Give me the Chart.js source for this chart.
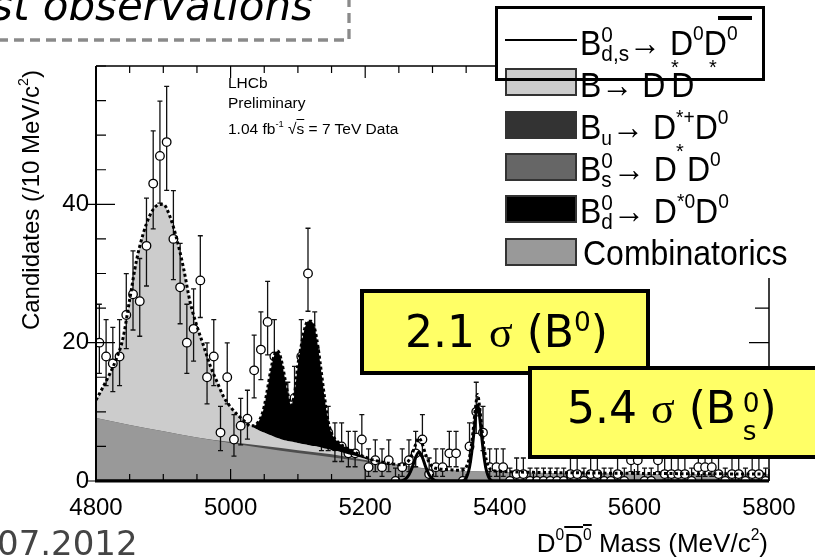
<!DOCTYPE html>
<html>
<head>
<meta charset="utf-8">
<script src="https://cdn.jsdelivr.net/npm/chart.js@4.4.1/dist/chart.umd.min.js"></script>
<style>
  html, body { margin: 0; padding: 0; background: #fff; }
  #stage { position: relative; width: 815px; height: 560px; overflow: hidden; font-family: "Liberation Sans", Arial, sans-serif; color: #000; }
  #plot { position: absolute; left: 0; top: 0; }
  .t { position: absolute; white-space: nowrap; }
  .t sup, .t sub { font-size: 0.6em; line-height: 0; position: relative; vertical-align: baseline; }
  .t sup { top: -0.75em; }
  .t sub { top: 0.25em; }
  .ss { display: inline-block; font-size: 0.65em; line-height: 0.8; vertical-align: -0.24em; }
  .ss span { display: block; }
  .slide { font-family: "DejaVu Sans", sans-serif; }
  .lhcb { font-size: 15.5px; line-height: 15.5px; left: 228px; }
  .leg { font-size: 32px; line-height: 32px; transform: scaleY(1.1); }
  .sym { position: absolute; left: 505px; width: 72px; height: 28px; box-sizing: border-box; border: 2px solid #333; }
  .star { position: absolute; font-size: 20px; line-height: 20px; }
  .ybox { position: absolute; box-sizing: border-box; border: 4px solid #000; background: #ffff66; }
  .big { font-family: "DejaVu Sans", sans-serif; font-size: 44px; line-height: 44px; }
  .big sup { top: -0.6em; }
  .sig { font-family: "Liberation Serif", "DejaVu Serif", serif; }
  .ss2 { display: inline-block; font-size: 0.6em; line-height: 1.05; vertical-align: -0.65em; margin-left: 0.25em; }
  .ss2 span { display: block; }
</style>
</head>
<body>
<div id="stage">
  <canvas id="plot" width="815" height="560"></canvas>

  <div class="t slide" style="right:502px; top:-15px; font-size:42px; line-height:42px; font-style:italic;">First observations</div>
  <svg width="815" height="560" style="position:absolute; left:0; top:0;">
    <path d="M-2 40 H349 V-2" stroke="#8a8a8a" stroke-width="3.3" stroke-dasharray="10 6" fill="none"/>
  </svg>
  <div class="t slide" style="left:-3px; top:526px; font-size:34px; line-height:34px; color:#444;">07.2012</div>

  <div class="t lhcb" style="top:75px;">LHCb</div>
  <div class="t lhcb" style="top:95px;">Preliminary</div>
  <div class="t lhcb" style="top:121px;">1.04 fb<sup>-1</sup> √<span style="text-decoration:overline">s</span> = 7 TeV Data</div>

  <div class="t" style="left:-119px; top:188px; width:300px; text-align:center; font-size:24px; line-height:24px; transform:rotate(-90deg);">Candidates (/10 MeV/c<sup>2</sup>)</div>
  <div class="t" style="right:47px; top:530px; font-size:26px; line-height:26px;">D<sup>0</sup><span style="text-decoration:overline">D<sup>0</sup></span> Mass (MeV/c<sup>2</sup>)</div>

  <!-- legend -->
  <div style="position:absolute; left:495px; top:0; width:330px; height:278px; background:#fff;"></div>
  <div style="position:absolute; left:505px; top:39px; width:72px; height:2px; background:#000;"></div>
  <div class="t leg" style="left:580px; top:27px;">B<span class="ss"><span>0</span><span>d,s</span></span>→ D<sup>0</sup>D<sup>0</sup></div>
  <div style="position:absolute; left:718px; top:16px; width:34px; height:3.5px; background:#000;"></div>
  <div class="sym" style="top:68px; background:#cccccc;"></div>
  <div class="t leg" style="left:580px; top:69px;">B→ D<span style="margin-left:6px">D</span></div>
  <div class="star" style="left:671px; top:57px;">*</div>
  <div class="star" style="left:709px; top:57px;">*</div>
  <div class="sym" style="top:111px; background:#333333;"></div>
  <div class="t leg" style="left:580px; top:111px;">B<sub>u</sub>→ D<sup>*+</sup>D<sup>0</sup></div>
  <div class="sym" style="top:153px; background:#666666;"></div>
  <div class="t leg" style="left:580px; top:153px;">B<span class="ss"><span>0</span><span>s</span></span>→ D<span style="margin-left:10px">D</span><sup>0</sup></div>
  <div class="star" style="left:676px; top:141px;">*</div>
  <div class="sym" style="top:195px; background:#000000;"></div>
  <div class="t leg" style="left:580px; top:195px;">B<span class="ss"><span>0</span><span>d</span></span>→ D<sup>*0</sup>D<sup>0</sup></div>
  <div class="sym" style="top:238px; background:#999999;"></div>
  <div class="t leg" style="left:583px; top:237px;">Combinatorics</div>
  <div style="position:absolute; left:495px; top:6px; width:270px; height:75px; box-sizing:border-box; border:3.5px solid #000;"></div>

  <!-- significance boxes -->
  <div class="ybox" style="left:360px; top:289px; width:290px; height:86px;"></div>
  <div class="t big" style="left:405px; top:310px;">2.1 <span class="sig">σ</span> (B<sup>0</sup>)</div>
  <div class="ybox" style="left:528px; top:366px; width:300px; height:93px;"></div>
  <div class="t big" style="left:567px; top:386px;">5.4 <span class="sig">σ</span> (B<span class="ss2"><span>0</span><span>s</span></span>)</div>
</div>

<script>
// data points, 10 MeV bins
const binMass = [
  4805, 4815, 4825, 4835, 4845, 4855, 4865, 4875, 4885, 4895,
  4905, 4915, 4925, 4935, 4945, 4955, 4965, 4975, 4985, 4995,
  5005, 5015, 5025, 5035, 5045, 5055, 5065, 5075, 5085, 5095,
  5105, 5115, 5125, 5135, 5145, 5155, 5165, 5175, 5185, 5195,
  5205, 5215, 5225, 5235, 5245, 5255, 5265, 5275, 5285, 5295,
  5305, 5315, 5325, 5335, 5345, 5355, 5365, 5375, 5385, 5395,
  5405, 5415, 5425, 5435, 5445, 5455, 5465, 5475, 5485, 5495,
  5505, 5515, 5525, 5535, 5545, 5555, 5565, 5575, 5585, 5595,
  5605, 5615, 5625, 5635, 5645, 5655, 5665, 5675, 5685, 5695,
  5705, 5715, 5725, 5735, 5745, 5755, 5765, 5775, 5785, 5795
];
const counts = [
  20, 18, 17, 18, 24, 27, 26, 34, 43, 47,
  49, 35, 28, 20, 22, 29, 15, 18, 7, 15,
  6, 8, 9, 16, 19, 23, 18, 12, 10, 12,
  18, 30, 19, 7, 7, 5, 5, 4, 4, 6,
  2, 3, 2, 3, 0, 2, 3, 4, 6, 1,
  2, 2, 4, 4, 0, 5, 10, 7, 2, 2,
  2, 0, 1, 1, 0, 0, 0, 0, 0, 0,
  1, 1, 0, 1, 1, 0, 0, 1, 0, 3,
  3, 0, 0, 3, 1, 1, 1, 1, 0, 2,
  2, 2, 1, 0, 1, 1, 0, 1, 1, 0
];

// fit components (cumulative tops)
const fitMass = [
  4800, 4810, 4820, 4830, 4840, 4850, 4860, 4870, 4880, 4890, 4900, 4910,
  4920, 4930, 4940, 4950, 4960, 4970, 4980, 4990, 5000, 5010, 5020, 5030,
  5035, 5040, 5045, 5050, 5055, 5060, 5065, 5070, 5075, 5080, 5085, 5090,
  5095, 5100, 5105, 5110, 5115, 5120, 5125, 5130, 5135, 5140, 5145, 5150,
  5155, 5160, 5165, 5170, 5180, 5190, 5200, 5210, 5220, 5230, 5240, 5250,
  5260, 5270, 5280, 5290, 5300
];
const lightTop = [
  11.7, 13.5, 15.4, 17.6, 20.6, 26.2, 31.8, 35.7, 38.4, 39.8, 40.0, 38.2,
  35.0, 30.8, 25.8, 22.4, 19.5, 16.6, 14.3, 12.1, 10.7, 9.6, 8.7, 8.0,
  7.7, 7.45, 7.2, 7.0, 6.8, 6.6, 6.4, 6.2, 6.05, 5.9, 5.8, 5.7,
  5.6, 5.5, 5.4, 5.3, 5.2, 5.1, 5.05, 4.95, 4.85, 4.7, 4.6, 4.5,
  4.4, 4.3, 4.15, 4.0, 3.75, 3.5, 3.2, 3.0, 2.8, 2.65, 2.5, 2.35,
  2.2, 2.05, 1.95, 1.85, 1.75
];
const blackTop = [
  11.7, 13.5, 15.4, 17.6, 20.6, 26.2, 31.8, 35.7, 38.4, 39.8, 40.0, 38.2,
  35.0, 30.8, 25.8, 22.4, 19.5, 16.6, 14.3, 12.1, 10.7, 9.6, 8.7, 8.0,
  8.0, 8.4, 9.2, 10.8, 13.4, 16.2, 18.2, 18.8, 17.6, 15.2, 12.6, 11.0,
  12.6, 16.8, 19.6, 22.0, 23.1, 23.1, 22.0, 19.3, 15.6, 11.8, 8.6, 6.9,
  6.1, 5.6, 5.2, 4.9, 4.4, 3.9, 3.45, 3.1, 2.85, 2.65, 2.5, 2.35,
  2.2, 2.05, 1.95, 1.85, 1.75
];
const bgMass = [
  4800, 4850, 4900, 4950, 5000, 5050, 5100, 5150, 5200, 5250, 5300,
  5350, 5400, 5450, 5500, 5550, 5600, 5650, 5700, 5750, 5800
];
const combTop = [
  9.1, 8.1, 7.2, 6.3, 5.5, 4.75, 4.05, 3.45, 2.8, 2.2, 1.7,
  1.45, 1.3, 1.2, 1.15, 1.1, 1.05, 1.0, 1.0, 0.95, 0.95
];
const stripeTop = [
  9.1, 8.1, 7.2, 6.3, 5.65, 5.05, 4.45, 3.85, 3.05, 2.35, 1.7,
  1.45, 1.3, 1.2, 1.15, 1.1, 1.05, 1.0, 1.0, 0.95, 0.95
];
// total fit beyond 5250 (signal peaks on top of background)
const tailMass = [
  5255, 5260, 5265, 5270, 5275, 5280, 5285, 5290, 5295, 5300, 5310, 5320,
  5330, 5340, 5345, 5350, 5355, 5358, 5361, 5364, 5367, 5370, 5373, 5376,
  5380, 5385, 5390, 5400, 5450, 5500, 5600, 5700, 5800
];
const tailTop = [
  2.35, 2.5, 3.0, 4.0, 5.3, 6.2, 5.3, 3.8, 2.7, 2.05, 1.75, 1.65,
  1.6, 1.55, 1.6, 2.0, 3.4, 5.3, 7.9, 10.7, 12.5, 10.7, 7.9, 5.3,
  3.0, 1.8, 1.5, 1.4, 1.25, 1.2, 1.1, 1.05, 1.0
];
// B0 and Bs -> D0 D0bar signal
const sigMass = [
  4800, 5250, 5255, 5260, 5265, 5270, 5275, 5280, 5285, 5290, 5295, 5300, 5305,
  5340, 5346, 5349, 5352, 5355, 5358, 5361, 5364, 5367, 5370, 5373, 5376, 5379,
  5382, 5385, 5388, 5395, 5800
];
const sigTop = [
  0, 0, 0.05, 0.3, 0.9, 2.0, 3.4, 4.2, 3.4, 2.0, 0.9, 0.3, 0.05,
  0, 0.05, 0.3, 0.9, 2.0, 3.9, 6.5, 9.3, 11.0, 9.3, 6.5, 3.9, 2.0,
  0.9, 0.3, 0.05, 0, 0
];

const xLabels = [4800, 5000, 5200, 5400, 5600, 5800];
const yLabels = [0, 20, 40];

function pts(xs, ys) { return xs.map((x, i) => ({ x: x, y: ys[i] })); }

const nHead = fitMass.filter((m) => m <= 5250).length;
const totalMass = fitMass.slice(0, nHead).concat(tailMass);
const totalTop = blackTop.slice(0, nHead).concat(tailTop);

const POINTS = 6;

const errorBars = {
  id: "errorBars",
  beforeDatasetDraw(chart, args) {
    if (args.index !== POINTS) return;
    const { ctx, scales: { x, y } } = chart;
    ctx.save();
    ctx.strokeStyle = "#111";
    ctx.lineWidth = 1.3;
    ctx.beginPath();
    binMass.forEach((m, i) => {
      const n = counts[i];
      const hi = n + Math.sqrt(n + 0.75) + 1;
      const lo = n > 0 ? n - Math.sqrt(n - 0.25) : 0;
      const px = x.getPixelForValue(m);
      const yh = y.getPixelForValue(hi);
      const yl = y.getPixelForValue(lo);
      const yc = y.getPixelForValue(n);
      ctx.moveTo(px, yh); ctx.lineTo(px, yl);
      ctx.moveTo(px - 2.5, yh); ctx.lineTo(px + 2.5, yh);
      ctx.moveTo(px - 2.5, yl); ctx.lineTo(px + 2.5, yl);
      ctx.moveTo(x.getPixelForValue(m - 5), yc); ctx.lineTo(x.getPixelForValue(m + 5), yc);
    });
    ctx.stroke();
    ctx.restore();
  }
};

const frame = {
  id: "frame",
  afterDatasetsDraw(chart) {
    const { ctx, chartArea: a, scales: { x, y } } = chart;
    ctx.save();
    ctx.strokeStyle = "#000";
    ctx.lineWidth = 1.2;
    ctx.beginPath();
    for (let m = 4800; m <= 5800; m += 50) {
      const px = x.getPixelForValue(m);
      const len = xLabels.includes(m) ? 12 : 7;
      ctx.moveTo(px, a.bottom); ctx.lineTo(px, a.bottom - len);
      ctx.moveTo(px, a.top); ctx.lineTo(px, a.top + len);
    }
    for (let v = 0; v <= 60; v += 5) {
      const py = y.getPixelForValue(v);
      const major = yLabels.includes(v);
      ctx.moveTo(major ? a.left - 9 : a.left, py); ctx.lineTo(a.left + (major ? 19 : 10), py);
      ctx.moveTo(a.right, py); ctx.lineTo(a.right - (major ? 20 : 14), py);
    }
    ctx.stroke();
    ctx.lineWidth = 1.5;
    ctx.beginPath();
    ctx.moveTo(a.left, a.top); ctx.lineTo(a.right, a.top); ctx.lineTo(a.right, a.bottom);
    ctx.stroke();
    ctx.lineWidth = 2;
    ctx.beginPath();
    ctx.moveTo(a.left, a.top); ctx.lineTo(a.left, a.bottom);
    ctx.stroke();
    ctx.lineWidth = 3;
    ctx.beginPath();
    ctx.moveTo(a.left - 1, a.bottom); ctx.lineTo(a.right, a.bottom);
    ctx.stroke();
    ctx.restore();
  }
};

const tickFont = { family: "Liberation Sans", size: 24 };

new Chart(document.getElementById("plot"), {
  type: "line",
  data: {
    datasets: [
      { label: "signal", data: pts(sigMass, sigTop), order: 1, borderColor: "#000", borderWidth: 3,
        pointRadius: 0, fill: false, cubicInterpolationMode: "monotone" },
      { label: "total", data: pts(totalMass, totalTop), order: 2, borderColor: "#000", borderWidth: 3,
        borderDash: [3, 2.5], pointRadius: 0, fill: false, cubicInterpolationMode: "monotone" },
      { label: "Bd -> D*0 D0", data: pts(fitMass, blackTop), order: 4, borderWidth: 0, borderColor: "#000",
        backgroundColor: "#000", pointRadius: 0, fill: 3, cubicInterpolationMode: "monotone" },
      { label: "B -> D* D*", data: pts(fitMass, lightTop), order: 10, borderWidth: 0,
        backgroundColor: "#cccccc", pointRadius: 0, fill: "origin", cubicInterpolationMode: "monotone" },
      { label: "Bu -> D*+ D0", data: pts(bgMass, stripeTop), order: 9, borderWidth: 0,
        backgroundColor: "#4d4d4d", pointRadius: 0, fill: "origin", cubicInterpolationMode: "monotone" },
      { label: "Combinatorics", data: pts(bgMass, combTop), order: 8, borderWidth: 0,
        backgroundColor: "#999999", pointRadius: 0, fill: "origin", cubicInterpolationMode: "monotone" },
      { type: "scatter", label: "Data", data: pts(binMass, counts), order: 7, pointRadius: 4.3,
        pointBackgroundColor: "#fff", pointBorderColor: "#000", pointBorderWidth: 1.3 }
    ]
  },
  options: {
    responsive: false,
    animation: false,
    layout: { padding: { left: 0, right: 46, top: 66, bottom: 0 } },
    plugins: { legend: { display: false }, tooltip: { enabled: false } },
    scales: {
      x: {
        type: "linear", min: 4800, max: 5800,
        afterBuildTicks(s) { s.ticks = xLabels.map((v) => ({ value: v })); },
        afterFit(s) { s.height = 79; },
        ticks: { font: tickFont, color: "#000", padding: 13, maxRotation: 0, autoSkip: false,
          callback: (v) => String(v) },
        grid: { display: false, drawTicks: false },
        border: { display: false }
      },
      y: {
        min: 0, max: 60,
        afterBuildTicks(s) { s.ticks = yLabels.map((v) => ({ value: v })); },
        afterFit(s) { s.width = 96; },
        ticks: { font: tickFont, color: "#000", padding: 7, callback: (v) => String(v) },
        grid: { display: false, drawTicks: false },
        border: { display: false }
      }
    }
  },
  plugins: [errorBars, frame]
});
</script>
</body>
</html>
